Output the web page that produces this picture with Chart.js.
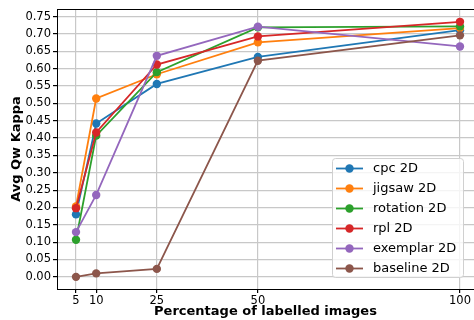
<!DOCTYPE html>
<html>
<head>
<meta charset="utf-8">
<script src="https://cdn.jsdelivr.net/npm/chart.js@4.4.1/dist/chart.umd.min.js"></script>
<style>
  html, body { margin: 0; padding: 0; background: #fff; }
  #wrap { width: 474px; height: 320px; }
</style>
</head>
<body>
<div id="wrap"><canvas id="chart" width="474" height="320"></canvas></div>
<script>
// labelled fraction (%) on the x axis
const percents = [5, 10, 25, 50, 100];
const xTicks = [5, 10, 25, 50, 100];
const yTicks = [0, 0.05, 0.1, 0.15, 0.2, 0.25, 0.3, 0.35, 0.4, 0.45, 0.5, 0.55, 0.6, 0.65, 0.7, 0.75];

const seriesNames = ["cpc 2D", "jigsaw 2D", "rotation 2D", "rpl 2D", "exemplar 2D", "baseline 2D"];
const cpc = [0.180, 0.442, 0.556, 0.634, 0.711];
const jigsaw = [0.203, 0.514, 0.584, 0.676, 0.717];
const rotation = [0.107, 0.407, 0.590, 0.719, 0.722];
const rpl = [0.198, 0.416, 0.612, 0.693, 0.735];
const exemplar = [0.129, 0.236, 0.637, 0.721, 0.664];
const baseline = [0.000, 0.010, 0.023, 0.623, 0.696];

const colors = ["#1f77b4", "#ff7f0e", "#2ca02c", "#d62728", "#9467bd", "#8c564b"];
const allSeries = [cpc, jigsaw, rotation, rpl, exemplar, baseline];

const datasets = allSeries.map((vals, i) => ({
    label: seriesNames[i],
    data: vals.map((v, j) => ({ x: percents[j], y: v })),
    borderColor: colors[i],
    backgroundColor: colors[i],
    pointBackgroundColor: colors[i],
    pointBorderColor: colors[i],
    borderWidth: 1.8,
    pointRadius: 4.2,
    pointBorderWidth: 0,
    tension: 0,
    order: allSeries.length - i
}));

// top spine (chart.js only draws left/bottom borders)
const topSpine = {
    id: "topSpine",
    afterDraw(chart) {
        const ctx = chart.ctx;
        const a = chart.chartArea;
        ctx.save();
        ctx.strokeStyle = "#000";
        ctx.lineWidth = 1;
        ctx.beginPath();
        ctx.moveTo(a.left, a.top + 0.5);
        ctx.lineTo(chart.width, a.top + 0.5);
        ctx.stroke();
        ctx.restore();
    }
};

// matplotlib style legend box in the lower right corner
const boxLegend = {
    id: "boxLegend",
    afterDraw(chart) {
        const ctx = chart.ctx;
        const x = 332, y = 158, w = 131, h = 119;
        ctx.save();
        ctx.beginPath();
        ctx.roundRect(x + 0.5, y + 0.5, w, h, 3);
        ctx.fillStyle = "rgba(255,255,255,0.8)";
        ctx.fill();
        ctx.strokeStyle = "#d0d0d0";
        ctx.lineWidth = 1;
        ctx.stroke();
        ctx.font = "13px 'DejaVu Sans'";
        ctx.textBaseline = "middle";
        seriesNames.forEach((name, i) => {
            const ry = 168.5 + i * 20;
            ctx.strokeStyle = colors[i];
            ctx.lineWidth = 1.8;
            ctx.beginPath();
            ctx.moveTo(336, ry);
            ctx.lineTo(363, ry);
            ctx.stroke();
            ctx.fillStyle = colors[i];
            ctx.beginPath();
            ctx.arc(349.5, ry, 4.2, 0, Math.PI * 2);
            ctx.fill();
            ctx.fillStyle = "#000";
            ctx.fillText(name, 373, ry + 0.5);
        });
        ctx.restore();
    }
};

new Chart(document.getElementById("chart").getContext("2d"), {
    type: "line",
    data: { datasets: datasets },
    options: {
        responsive: false,
        animation: false,
        layout: { autoPadding: false, padding: { top: 9, right: 0, left: 0, bottom: 0 } },
        plugins: {
            legend: { display: false },
            tooltip: { enabled: false }
        },
        scales: {
            x: {
                type: "linear",
                min: 0.3,
                max: 103.47,
                afterBuildTicks: (scale) => { scale.ticks = xTicks.map(v => ({ value: v })); },
                afterFit: (scale) => {
                    scale.height = 31;
                    scale.paddingLeft = 0;
                    scale.paddingRight = 0;
                },
                ticks: {
                    color: "#000",
                    font: { family: "DejaVu Sans", size: 11.5 },
                    padding: 1,
                    maxRotation: 0,
                    autoSkip: false
                },
                grid: { color: "#c8c8c8", lineWidth: 1.2, tickLength: 4, tickColor: "#000" },
                border: { color: "#000", width: 1 },
                title: {
                    display: true,
                    text: "Percentage of labelled images",
                    color: "#000",
                    font: { family: "DejaVu Sans", size: 13, weight: "bold" },
                    padding: { top: 0, bottom: 1 }
                }
            },
            y: {
                min: -0.035,
                max: 0.772,
                afterBuildTicks: (scale) => { scale.ticks = yTicks.map(v => ({ value: v })); },
                afterFit: (scale) => {
                    scale.width = 57;
                    scale.paddingTop = 0;
                    scale.paddingBottom = 0;
                },
                ticks: {
                    color: "#000",
                    font: { family: "DejaVu Sans", size: 11.5 },
                    padding: 2,
                    callback: (v) => Number(v).toFixed(2)
                },
                grid: { color: "#c8c8c8", lineWidth: 1.2, tickLength: 4, tickColor: "#000" },
                border: { color: "#000", width: 1 },
                title: {
                    display: true,
                    text: "Avg Qw Kappa",
                    color: "#000",
                    font: { family: "DejaVu Sans", size: 13, weight: "bold" },
                    padding: { top: 9, bottom: 0 }
                }
            }
        }
    },
    plugins: [topSpine, boxLegend]
});
</script>
</body>
</html>
